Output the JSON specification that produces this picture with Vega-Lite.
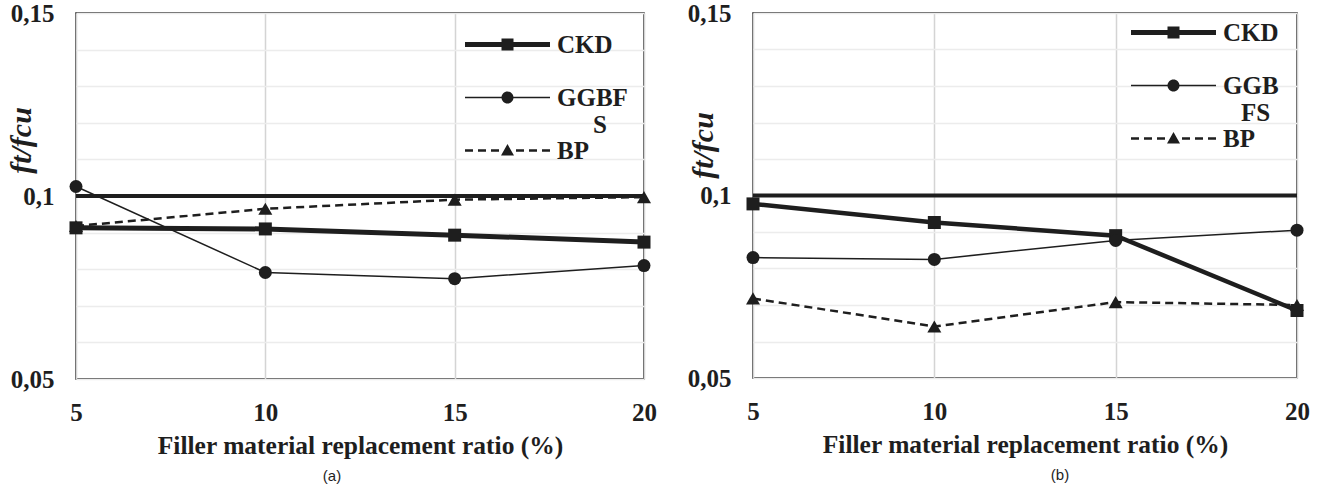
{
  "$schema": "https://vega.github.io/schema/vega-lite/v6.json",
  "padding": {"left": 5, "top": 0, "right": 5, "bottom": 0},
  "background": "white",
  "datasets": {
    "a": [
      {"series": "ref", "ratio": 5, "value": 0.1},
      {"series": "ref", "ratio": 20, "value": 0.1},
      {"series": "CKD", "ratio": 5, "value": 0.0913},
      {"series": "CKD", "ratio": 10, "value": 0.0910},
      {"series": "CKD", "ratio": 15, "value": 0.0893},
      {"series": "CKD", "ratio": 20, "value": 0.0874},
      {"series": "GGBFS", "ratio": 5, "value": 0.1026},
      {"series": "GGBFS", "ratio": 10, "value": 0.0791},
      {"series": "GGBFS", "ratio": 15, "value": 0.0774},
      {"series": "GGBFS", "ratio": 20, "value": 0.0810},
      {"series": "BP", "ratio": 5, "value": 0.0918},
      {"series": "BP", "ratio": 10, "value": 0.0965},
      {"series": "BP", "ratio": 15, "value": 0.0990},
      {"series": "BP", "ratio": 20, "value": 0.0997}
    ],
    "b": [
      {"series": "ref", "ratio": 5, "value": 0.1},
      {"series": "ref", "ratio": 20, "value": 0.1},
      {"series": "CKD", "ratio": 5, "value": 0.0977},
      {"series": "CKD", "ratio": 10, "value": 0.0926},
      {"series": "CKD", "ratio": 15, "value": 0.0890},
      {"series": "CKD", "ratio": 20, "value": 0.0685},
      {"series": "GGBFS", "ratio": 5, "value": 0.0830},
      {"series": "GGBFS", "ratio": 10, "value": 0.0825},
      {"series": "GGBFS", "ratio": 15, "value": 0.0877},
      {"series": "GGBFS", "ratio": 20, "value": 0.0905},
      {"series": "BP", "ratio": 5, "value": 0.0718},
      {"series": "BP", "ratio": 10, "value": 0.0641},
      {"series": "BP", "ratio": 15, "value": 0.0708},
      {"series": "BP", "ratio": 20, "value": 0.0700}
    ]
  },
  "spacing": 109,
  "bounds": "flush",
  "resolve": {"scale": {"shape": "independent"}, "legend": {"shape": "independent"}},
  "hconcat": [
    {
      "width": 568,
      "height": 366,
      "data": {"name": "a"},
      "title": {"text": "(a)", "orient": "bottom", "font": "Liberation Sans", "fontSize": 15, "fontWeight": "normal", "color": "#1e1e1e", "dx": -28, "offset": 10},
      "encoding": {
        "x": {"field": "ratio", "type": "quantitative", "scale": {"domain": [5, 20], "nice": false, "zero": false},
          "axis": {"values": [5, 10, 15, 20], "title": "Filler material replacement ratio (%)", "grid": true, "gridColor": "#d4d4d4", "gridWidth": 1.5, "domain": false, "ticks": false, "labelFlush": false, "labelOverlap": false, "labelPadding": 21, "labelFont": "Liberation Serif", "labelFontWeight": "bold", "labelFontSize": 25, "labelColor": "#1e1e1e", "titleFont": "Liberation Serif", "titleFontWeight": "bold", "titleFontSize": 25.5, "titleColor": "#1e1e1e", "titlePadding": 8}},
        "y": {"field": "value", "type": "quantitative", "scale": {"domain": [0.05, 0.15], "nice": false, "zero": false},
          "axis": {"values": [0.05, 0.06, 0.07, 0.08, 0.09, 0.1, 0.11, 0.12, 0.13, 0.14, 0.15], "labelExpr": "datum.value == 0.1 ? '0,1' : datum.value == 0.05 ? '0,05' : datum.value == 0.15 ? '0,15' : ''", "grid": true, "gridColor": "#ececec", "gridWidth": 1.5, "domain": false, "ticks": false, "labelFlush": false, "labelOverlap": false, "labelPadding": 22, "labelFont": "Liberation Serif", "labelFontWeight": "bold", "labelFontSize": 25, "labelColor": "#1e1e1e", "title": "ft/fcu", "titleFont": "Liberation Serif", "titleFontWeight": "bold", "titleFontStyle": "italic", "titleFontSize": 30, "titleColor": "#1e1e1e", "titleX": -55, "titleY": 127, "titleAlign": "center", "titleBaseline": "middle", "titleAngle": 270}}
      },
      "layer": [
        {"transform": [{"filter": "datum.series == 'ref'"}], "mark": {"type": "line", "color": "#1e1e1e", "strokeWidth": 4}},
        {"transform": [{"filter": "datum.series == 'CKD'"}], "mark": {"type": "line", "color": "#1e1e1e", "strokeWidth": 5}},
        {"transform": [{"filter": "datum.series == 'GGBFS'"}], "mark": {"type": "line", "color": "#1e1e1e", "strokeWidth": 1.5}},
        {"transform": [{"filter": "datum.series == 'BP'"}], "mark": {"type": "line", "color": "#1e1e1e", "strokeWidth": 2.5, "strokeDash": [8, 5]}},
        {"transform": [{"filter": "datum.series == 'CKD'"}], "mark": {"type": "point", "shape": "square", "filled": true, "size": 169, "color": "#1e1e1e", "opacity": 1}},
        {"transform": [{"filter": "datum.series == 'GGBFS'"}], "mark": {"type": "point", "shape": "circle", "filled": true, "size": 169, "color": "#1e1e1e", "opacity": 1}},
        {"transform": [{"filter": "datum.series == 'BP'"}], "mark": {"type": "point", "shape": "triangle-up", "filled": true, "size": 196, "color": "#1e1e1e", "opacity": 1}},
        {"transform": [{"filter": "datum.series != 'ref'"}], "mark": {"type": "point", "filled": true, "color": "#1e1e1e", "size": 100, "opacity": 0},
          "encoding": {
            "shape": {"field": "series", "scale": {"domain": ["CKD", "GGBFS", "BP"], "range": [
                "M-4.25,-0.25H-0.4V0.25H-4.25ZM0.4,-0.25H4.25V0.25H0.4ZM-0.6,-0.6H0.6V0.6H-0.6Z",
                "M-4.25,-0.075H-0.5V0.075H-4.25ZM0.5,-0.075H4.25V0.075H0.5ZM0.6,0A0.6,0.6 0 1,1 -0.6,0A0.6,0.6 0 1,1 0.6,0Z",
                "M-4.25,-0.13H-3.45V0.13H-4.25ZM-2.95,-0.13H-2.15V0.13H-2.95ZM-1.65,-0.13H-0.85V0.13H-1.65ZM0.85,-0.13H1.65V0.13H0.85ZM2.15,-0.13H2.95V0.13H2.15ZM3.45,-0.13H4.25V0.13H3.45ZM0,-0.65L0.65,0.5H-0.65Z"]},
              "legend": {"orient": "none", "legendX": 419, "legendY": 19, "title": null, "symbolSize": 400, "symbolOpacity": 1, "symbolFillColor": "#1e1e1e", "labelFont": "Liberation Serif", "labelFontWeight": "bold", "labelFontSize": 25, "labelColor": "#1e1e1e", "labelOffset": 37, "rowPadding": -4, "labelLimit": 400,
                "labelExpr": "datum.label == 'GGBFS' ? ['GGBF', '\u2800\u2800S'] : [datum.label, '\u00a0']"}}
          }}
      ]
    },
    {
      "width": 544,
      "height": 365,
      "data": {"name": "b"},
      "title": {"text": "(b)", "orient": "bottom", "font": "Liberation Sans", "fontSize": 15, "fontWeight": "normal", "color": "#1e1e1e", "dx": 35, "offset": 10},
      "encoding": {
        "x": {"field": "ratio", "type": "quantitative", "scale": {"domain": [5, 20], "nice": false, "zero": false},
          "axis": {"values": [5, 10, 15, 20], "title": "Filler material replacement ratio (%)", "grid": true, "gridColor": "#d4d4d4", "gridWidth": 1.5, "domain": false, "ticks": false, "labelFlush": false, "labelOverlap": false, "labelPadding": 21, "labelFont": "Liberation Serif", "labelFontWeight": "bold", "labelFontSize": 25, "labelColor": "#1e1e1e", "titleFont": "Liberation Serif", "titleFontWeight": "bold", "titleFontSize": 25.5, "titleColor": "#1e1e1e", "titlePadding": 8}},
        "y": {"field": "value", "type": "quantitative", "scale": {"domain": [0.05, 0.15], "nice": false, "zero": false},
          "axis": {"values": [0.05, 0.06, 0.07, 0.08, 0.09, 0.1, 0.11, 0.12, 0.13, 0.14, 0.15], "labelExpr": "datum.value == 0.1 ? '0,1' : datum.value == 0.05 ? '0,05' : datum.value == 0.15 ? '0,15' : ''", "grid": true, "gridColor": "#ececec", "gridWidth": 1.5, "domain": false, "ticks": false, "labelFlush": false, "labelOverlap": false, "labelPadding": 22, "labelFont": "Liberation Serif", "labelFontWeight": "bold", "labelFontSize": 25, "labelColor": "#1e1e1e", "title": "ft/fcu", "titleFont": "Liberation Serif", "titleFontWeight": "bold", "titleFontStyle": "italic", "titleFontSize": 30, "titleColor": "#1e1e1e", "titleX": -50, "titleY": 132, "titleAlign": "center", "titleBaseline": "middle", "titleAngle": 270}}
      },
      "layer": [
        {"transform": [{"filter": "datum.series == 'ref'"}], "mark": {"type": "line", "color": "#1e1e1e", "strokeWidth": 4}},
        {"transform": [{"filter": "datum.series == 'CKD'"}], "mark": {"type": "line", "color": "#1e1e1e", "strokeWidth": 4.5}},
        {"transform": [{"filter": "datum.series == 'GGBFS'"}], "mark": {"type": "line", "color": "#1e1e1e", "strokeWidth": 1.5}},
        {"transform": [{"filter": "datum.series == 'BP'"}], "mark": {"type": "line", "color": "#1e1e1e", "strokeWidth": 2.5, "strokeDash": [8, 5]}},
        {"transform": [{"filter": "datum.series == 'CKD'"}], "mark": {"type": "point", "shape": "square", "filled": true, "size": 169, "color": "#1e1e1e", "opacity": 1}},
        {"transform": [{"filter": "datum.series == 'GGBFS'"}], "mark": {"type": "point", "shape": "circle", "filled": true, "size": 169, "color": "#1e1e1e", "opacity": 1}},
        {"transform": [{"filter": "datum.series == 'BP'"}], "mark": {"type": "point", "shape": "triangle-up", "filled": true, "size": 196, "color": "#1e1e1e", "opacity": 1}},
        {"transform": [{"filter": "datum.series != 'ref'"}], "mark": {"type": "point", "filled": true, "color": "#1e1e1e", "size": 100, "opacity": 0},
          "encoding": {
            "shape": {"field": "series", "scale": {"domain": ["CKD", "GGBFS", "BP"], "range": [
                "M-4.25,-0.25H-0.4V0.25H-4.25ZM0.4,-0.25H4.25V0.25H0.4ZM-0.6,-0.6H0.6V0.6H-0.6Z",
                "M-4.25,-0.075H-0.5V0.075H-4.25ZM0.5,-0.075H4.25V0.075H0.5ZM0.6,0A0.6,0.6 0 1,1 -0.6,0A0.6,0.6 0 1,1 0.6,0Z",
                "M-4.25,-0.13H-3.45V0.13H-4.25ZM-2.95,-0.13H-2.15V0.13H-2.95ZM-1.65,-0.13H-0.85V0.13H-1.65ZM0.85,-0.13H1.65V0.13H0.85ZM2.15,-0.13H2.95V0.13H2.15ZM3.45,-0.13H4.25V0.13H3.45ZM0,-0.65L0.65,0.5H-0.65Z"]},
              "legend": {"orient": "none", "legendX": 408, "legendY": 7, "title": null, "symbolSize": 400, "symbolOpacity": 1, "symbolFillColor": "#1e1e1e", "labelFont": "Liberation Serif", "labelFontWeight": "bold", "labelFontSize": 25, "labelColor": "#1e1e1e", "labelOffset": 37, "rowPadding": -4, "labelLimit": 400,
                "labelExpr": "datum.label == 'GGBFS' ? ['GGB', '\u2800FS'] : [datum.label, '\u00a0']"}}
          }}
      ]
    }
  ],
  "config": {
    "view": {"stroke": "#1e1e1e", "strokeWidth": 1.5},
    "font": "Liberation Serif"
  }
}
